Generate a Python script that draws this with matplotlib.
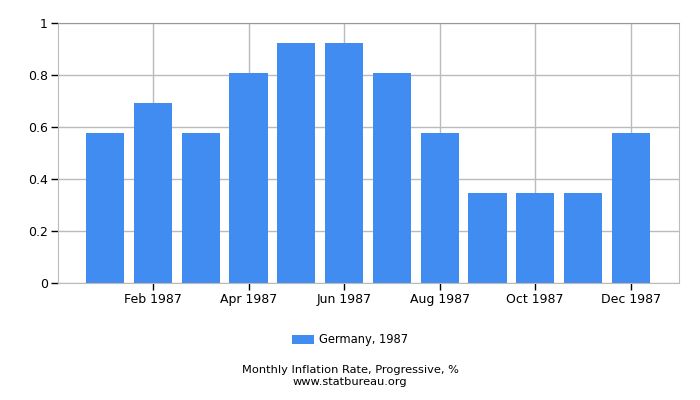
import matplotlib.pyplot as plt

months = ["Jan 1987", "Feb 1987", "Mar 1987", "Apr 1987", "May 1987", "Jun 1987",
          "Jul 1987", "Aug 1987", "Sep 1987", "Oct 1987", "Nov 1987", "Dec 1987"]
rates = [0.576, 0.691, 0.576, 0.807, 0.922, 0.922,
         0.807, 0.576, 0.346, 0.346, 0.346, 0.576]
yticks = [0, 0.2, 0.4, 0.6, 0.8, 1]
ytick_labels = ["0", "0.2", "0.4", "0.6", "0.8", "1"]

fig = plt.figure(figsize=(7, 4), dpi=100)
ax = fig.add_axes([57.5 / 700, 1 - 283.3 / 400, 621 / 700, 260.8 / 400])

pos = list(range(1, len(months) + 1))
ax.bar(pos, rates, width=0.8, color="#418cf0", label="Germany, 1987", zorder=2)

ax.set_xlim(0, 13)
ax.set_ylim(0, 1)
ax.set_xticks(pos[1::2])
ax.set_xticklabels(months[1::2], fontsize=9)
ax.set_yticks(yticks)
ax.set_yticklabels(ytick_labels, fontsize=9)
ax.grid(True, color="#bbbbbb", linewidth=1, zorder=0)
ax.tick_params(axis="both", length=5, width=1, color="black", pad=2)
for s in ax.spines.values():
    s.set_color("#bbbbbb")
ax.spines["top"].set_color("#999999")

fig.legend(loc="center", bbox_to_anchor=(0.5, 1 - 340 / 400), frameon=False,
           fontsize=8.3, handlelength=1.9, handleheight=0.7, handletextpad=0.4)
fig.text(0.5, 1 - 370 / 400, "Monthly Inflation Rate, Progressive, %",
         ha="center", va="center", fontsize=8.2)
fig.text(0.5, 1 - 382 / 400, "www.statbureau.org",
         ha="center", va="center", fontsize=8.2)

fig.savefig("out.png", dpi=100)
